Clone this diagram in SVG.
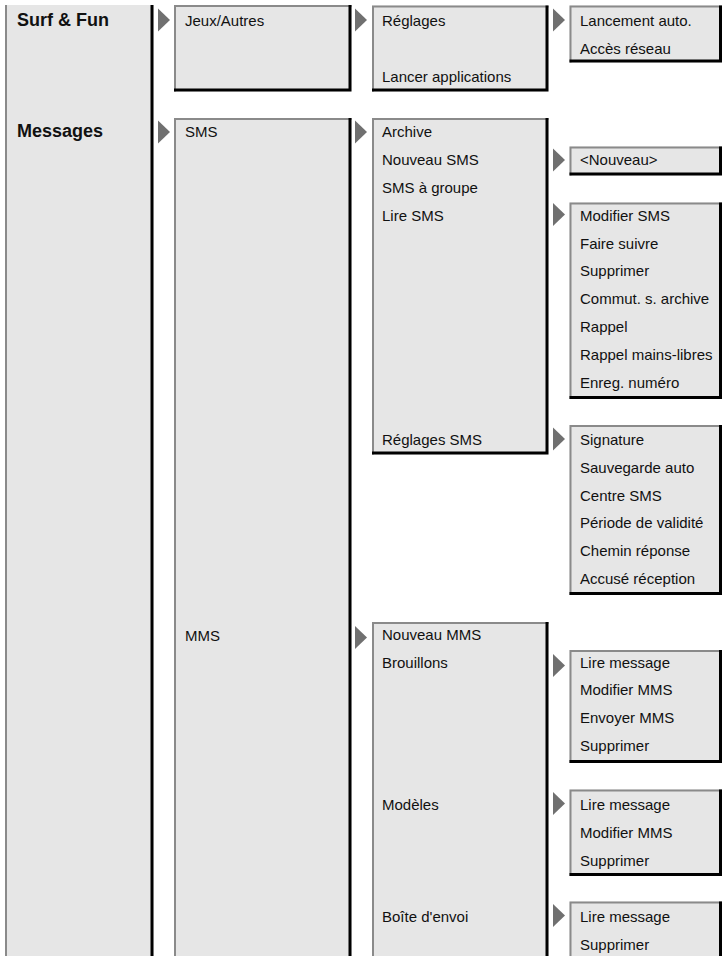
<svg xmlns="http://www.w3.org/2000/svg" width="722" height="956" viewBox="0 0 722 956">
<style>
.f{fill:#e6e6e6}
.lt{stroke:#8a8a8a;stroke-width:2;fill:none}
.dk{stroke:#000;stroke-width:3;fill:none}
text{font-family:"Liberation Sans",Arial,sans-serif;font-size:15px;fill:#111}
.h{font-weight:bold;font-size:18px}
.arr{fill:#707070}
</style>
<rect width="722" height="956" fill="#fff"/>
<g id="col1-menu">
<rect class="f" x="5" y="5" width="148.5" height="960"/>
<path class="lt" d="M6,965V5"/>
<path class="dk" d="M152,5V965"/>
<text class="h" x="17" y="26">Surf &amp; Fun</text>
<text class="h" x="17" y="137">Messages</text>
</g>
<g id="jeux">
<rect class="f" x="174" y="5" width="177.5" height="86.5"/>
<path class="lt" d="M175,91.5V6H351.5"/>
<path class="dk" d="M350,5V90H174"/>
<text x="185" y="26">Jeux/Autres</text>
</g>
<g id="messages-sub">
<rect class="f" x="174" y="118" width="177.5" height="850"/>
<path class="lt" d="M175,968V119H351.5"/>
<path class="dk" d="M350,118V968"/>
<text x="185" y="137">SMS</text>
<text x="185" y="641">MMS</text>
</g>
<g id="jeux-sub">
<rect class="f" x="372" y="5.5" width="176.5" height="86"/>
<path class="lt" d="M373,91.5V6.5H548.5"/>
<path class="dk" d="M547,5.5V90H372"/>
<text x="382" y="26">Réglages</text>
<text x="382" y="81.7">Lancer applications</text>
</g>
<g id="sms-sub">
<rect class="f" x="372" y="118" width="176.5" height="336.5"/>
<path class="lt" d="M373,454.5V119H548.5"/>
<path class="dk" d="M547,118V453H372"/>
<text x="382" y="137">Archive</text>
<text x="382" y="165">Nouveau SMS</text>
<text x="382" y="192.7">SMS à groupe</text>
<text x="382" y="220.7">Lire SMS</text>
<text x="382" y="445">Réglages SMS</text>
</g>
<g id="mms-sub">
<rect class="f" x="372" y="622" width="176.5" height="346"/>
<path class="lt" d="M373,968V623H548.5"/>
<path class="dk" d="M547,622V968"/>
<text x="382" y="640">Nouveau MMS</text>
<text x="382" y="667.5">Brouillons</text>
<text x="382" y="810">Modèles</text>
<text x="382" y="922">Boîte d'envoi</text>
</g>
<g id="reglages-sub">
<rect class="f" x="569.5" y="5.5" width="152.5" height="57"/>
<path class="lt" d="M570.5,62.5V6.5H722"/>
<path class="dk" d="M720.5,5.5V61H569.5"/>
<text x="580" y="26">Lancement auto.</text>
<text x="580" y="53.5">Accès réseau</text>
</g>
<g id="nouveau-sms-sub">
<rect class="f" x="569.5" y="146.5" width="152.5" height="29"/>
<path class="lt" d="M570.5,175.5V147.5H722"/>
<path class="dk" d="M720.5,146.5V174H569.5"/>
<text x="580" y="165">&lt;Nouveau&gt;</text>
</g>
<g id="lire-sms-sub">
<rect class="f" x="569.5" y="202.5" width="152.5" height="196.5"/>
<path class="lt" d="M570.5,399V203.5H722"/>
<path class="dk" d="M720.5,202.5V397.5H569.5"/>
<text x="580" y="220.7">Modifier SMS</text>
<text x="580" y="248.5">Faire suivre</text>
<text x="580" y="276.3">Supprimer</text>
<text x="580" y="304.1">Commut. s. archive</text>
<text x="580" y="331.9">Rappel</text>
<text x="580" y="359.7">Rappel mains-libres</text>
<text x="580" y="387.5">Enreg. numéro</text>
</g>
<g id="reglages-sms-sub">
<rect class="f" x="569.5" y="425" width="152.5" height="170"/>
<path class="lt" d="M570.5,595V426H722"/>
<path class="dk" d="M720.5,425V593.5H569.5"/>
<text x="580" y="445">Signature</text>
<text x="580" y="472.8">Sauvegarde auto</text>
<text x="580" y="500.6">Centre SMS</text>
<text x="580" y="528.4">Période de validité</text>
<text x="580" y="556.2">Chemin réponse</text>
<text x="580" y="584">Accusé réception</text>
</g>
<g id="brouillons-sub">
<rect class="f" x="569.5" y="650" width="152.5" height="113"/>
<path class="lt" d="M570.5,763V651H722"/>
<path class="dk" d="M720.5,650V761.5H569.5"/>
<text x="580" y="667.5">Lire message</text>
<text x="580" y="695.3">Modifier MMS</text>
<text x="580" y="723">Envoyer MMS</text>
<text x="580" y="751">Supprimer</text>
</g>
<g id="modeles-sub">
<rect class="f" x="569.5" y="789.5" width="152.5" height="86.5"/>
<path class="lt" d="M570.5,876V790.5H722"/>
<path class="dk" d="M720.5,789.5V874.5H569.5"/>
<text x="580" y="810">Lire message</text>
<text x="580" y="838">Modifier MMS</text>
<text x="580" y="866">Supprimer</text>
</g>
<g id="boite-sub">
<rect class="f" x="569.5" y="901.5" width="152.5" height="66"/>
<path class="lt" d="M570.5,968V902.5H722"/>
<path class="dk" d="M720.5,901.5V968"/>
<text x="580" y="922">Lire message</text>
<text x="580" y="950">Supprimer</text>
</g>
<g id="connectors" class="arr">
<path d="M158,8.5L170,20L158,31.5Z"/>
<path d="M158,120.5L170,132L158,143.5Z"/>
<path d="M355,8.5L367,20L355,31.5Z"/>
<path d="M355,120.5L367,132L355,143.5Z"/>
<path d="M355,626L367,637.5L355,649Z"/>
<path d="M553,8.5L565,20L553,31.5Z"/>
<path d="M553,148.5L565,160L553,171.5Z"/>
<path d="M553,203L565,214.5L553,226Z"/>
<path d="M553,427.5L565,439L553,450.5Z"/>
<path d="M553,654L565,665.5L553,677Z"/>
<path d="M553,792L565,803.5L553,815Z"/>
<path d="M553,904L565,915.5L553,927Z"/>
</g>
</svg>
